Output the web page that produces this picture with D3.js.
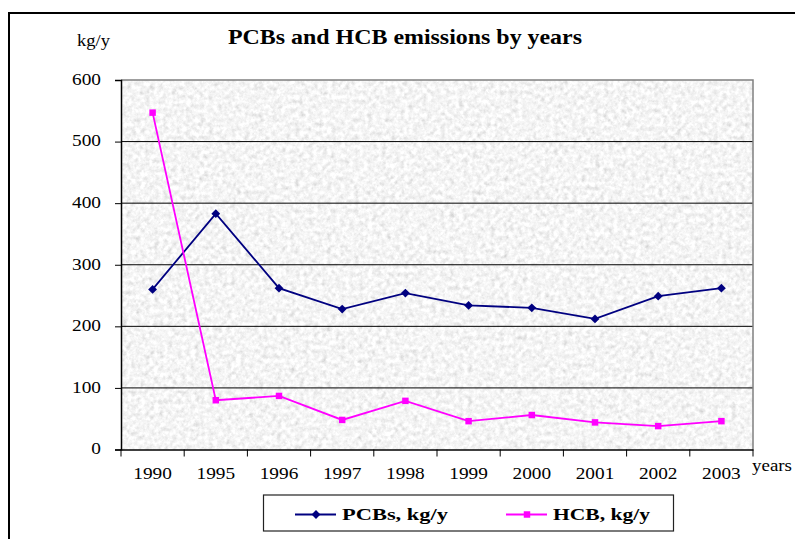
<!DOCTYPE html>
<html>
<head>
<meta charset="utf-8">
<script src="https://cdn.jsdelivr.net/npm/d3@7"></script>
<style>
  body { margin: 0; background: #fff; }
</style>
</head>
<body>
<div id="chart"></div>
<script>
// data
const years = ["1990", "1995", "1996", "1997", "1998", "1999", "2000", "2001", "2002", "2003"];
const pcbs = [260, 383, 262, 228, 254, 234, 230, 212, 249, 262];
const hcb = [547, 80, 87, 48, 79, 46, 56, 44, 38, 46];
const yTicks = [0, 100, 200, 300, 400, 500, 600];

const W = 795, H = 539;
const pLeft = 121, pRight = 753, pTop = 80, pBottom = 449.5;
const serif = "'Liberation Serif', 'Times New Roman', 'DejaVu Serif', serif";

// the source picture is a bit wider than tall, so stretch text sideways
function stretch(sel, k) {
  sel.each(function () {
    const w = this.getComputedTextLength();
    d3.select(this).attr("textLength", w * k).attr("lengthAdjust", "spacingAndGlyphs");
  });
}
function fitWidth(sel, w) {
  sel.attr("textLength", w).attr("lengthAdjust", "spacingAndGlyphs");
}

const svg = d3.select("#chart").append("svg")
    .attr("width", W).attr("height", H)
    .style("font-family", serif);

// grey granite look for the plot area
const defs = svg.append("defs");
const f = defs.append("filter").attr("id", "granite")
    .attr("x", 0).attr("y", 0).attr("width", 1).attr("height", 1);
f.append("feTurbulence").attr("type", "fractalNoise")
    .attr("baseFrequency", 0.22).attr("numOctaves", 4).attr("seed", 7).attr("result", "n");
f.append("feColorMatrix").attr("in", "n").attr("type", "matrix")
    .attr("values", "0.3 0.3 0.3 0 0.46  0.3 0.3 0.3 0 0.46  0.3 0.3 0.3 0 0.46  0 0 0 0 1");

// outer frame
svg.append("rect")
    .attr("x", 9).attr("y", 13).attr("width", W + 20).attr("height", H + 20)
    .attr("fill", "none").attr("stroke", "#000").attr("stroke-width", 2);

const x = d3.scaleBand().domain(years).range([pLeft, pRight]);
const y = d3.scaleLinear().domain([0, 600]).range([pBottom, pTop]);

svg.append("rect")
    .attr("x", pLeft).attr("y", pTop).attr("width", pRight - pLeft).attr("height", pBottom - pTop)
    .attr("fill", "#e8e8e8").attr("filter", "url(#granite)");

// gridlines
svg.append("g").selectAll("line")
    .data(yTicks.filter(d => d > 0 && d < 600)).enter().append("line")
    .attr("x1", pLeft).attr("x2", pRight)
    .attr("y1", d => y(d)).attr("y2", d => y(d))
    .attr("stroke", "#000").attr("stroke-width", 1);

// plot frame top and right
svg.append("path")
    .attr("d", `M${pLeft},${pTop}H${pRight}V${pBottom}`)
    .attr("fill", "none").attr("stroke", "#808080").attr("stroke-width", 1.5);

// y axis
const yAxis = svg.append("g")
    .attr("transform", `translate(${pLeft},0)`)
    .call(d3.axisLeft(y).tickValues(yTicks).tickSize(6).tickPadding(14))
    .attr("font-family", serif).attr("font-size", 16.5);
yAxis.select(".domain").attr("stroke", "#000").attr("stroke-width", 1.5);
yAxis.selectAll("text").attr("fill", "#000").attr("dy", "0.26em");
stretch(yAxis.selectAll("text"), 1.17);

// x axis with ticks at category boundaries
const xAxis = svg.append("g")
    .attr("transform", `translate(0,${pBottom})`)
    .call(d3.axisBottom(x).tickSize(0).tickPadding(0))
    .attr("font-family", serif).attr("font-size", 16.5);
xAxis.select(".domain").attr("stroke", "#000").attr("stroke-width", 1.5);
xAxis.selectAll("text").attr("fill", "#000").attr("y", 29.5).attr("dy", null);
stretch(xAxis.selectAll("text"), 1.17);
svg.append("g").selectAll("line")
    .data(years.concat(["end"])).enter().append("line")
    .attr("x1", (d, i) => pLeft + i * x.step()).attr("x2", (d, i) => pLeft + i * x.step())
    .attr("y1", pBottom).attr("y2", pBottom + 7)
    .attr("stroke", "#000").attr("stroke-width", 1);

// lines
const line = d3.line().x((d, i) => x(years[i]) + x.bandwidth() / 2).y(d => y(d));

svg.append("path").datum(pcbs).attr("d", line)
    .attr("fill", "none").attr("stroke", "#000080").attr("stroke-width", 1.8);
svg.append("path").datum(hcb).attr("d", line)
    .attr("fill", "none").attr("stroke", "#ff00ff").attr("stroke-width", 1.8);

const diamond = d3.symbol().type(d3.symbolDiamond2).size(50);
const square = d3.symbol().type(d3.symbolSquare).size(42);

svg.append("g").selectAll("path").data(pcbs).enter().append("path")
    .attr("d", diamond)
    .attr("transform", (d, i) => `translate(${x(years[i]) + x.bandwidth() / 2},${y(d)})`)
    .attr("fill", "#000080");
svg.append("g").selectAll("path").data(hcb).enter().append("path")
    .attr("d", square)
    .attr("transform", (d, i) => `translate(${x(years[i]) + x.bandwidth() / 2},${y(d)})`)
    .attr("fill", "#ff00ff");

// texts
fitWidth(svg.append("text").attr("x", 228).attr("y", 44)
    .attr("font-size", 21).attr("font-weight", "bold")
    .text("PCBs and HCB emissions by years"), 354);
fitWidth(svg.append("text").attr("x", 77).attr("y", 46)
    .attr("font-size", 16.5).text("kg/y"), 33);
fitWidth(svg.append("text").attr("x", 752).attr("y", 471)
    .attr("font-size", 16.5).text("years"), 40);

// legend
const lg = svg.append("g");
lg.append("rect").attr("x", 263.5).attr("y", 495).attr("width", 410).attr("height", 36)
    .attr("fill", "#fff").attr("stroke", "#222").attr("stroke-width", 1.2);
const items = [
  { name: "PCBs, kg/y", color: "#000080", sym: diamond, x0: 295, tx: 342, tw: 106 },
  { name: "HCB, kg/y", color: "#ff00ff", sym: square, x0: 506, tx: 553, tw: 97 }
];
items.forEach(it => {
  lg.append("line").attr("x1", it.x0).attr("x2", it.x0 + 41)
      .attr("y1", 514.5).attr("y2", 514.5)
      .attr("stroke", it.color).attr("stroke-width", 1.8);
  lg.append("path").attr("d", it.sym)
      .attr("transform", `translate(${it.x0 + 21},514.5)`).attr("fill", it.color);
  fitWidth(lg.append("text").attr("x", it.tx).attr("y", 520)
      .attr("font-size", 17).attr("font-weight", "bold").text(it.name), it.tw);
});
</script>
</body>
</html>
